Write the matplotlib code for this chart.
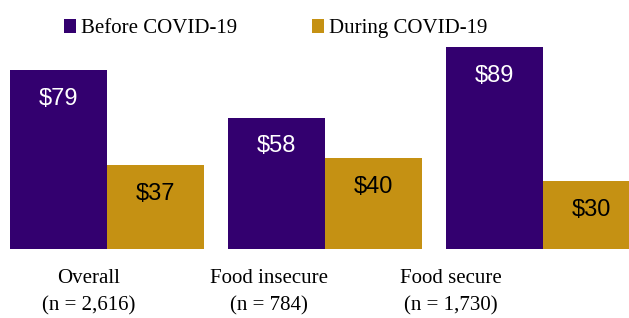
import numpy as np
import matplotlib
matplotlib.use("Agg")
import matplotlib.pyplot as plt

# данные
groups = ["Overall\n(n = 2,616)", "Food insecure\n(n = 784)", "Food secure\n(n = 1,730)"]
before = [79, 58, 89]
during = [37, 40, 30]
series_names = ["Before COVID-19", "During COVID-19"]
colors = ["#33006F", "#C59113"]

fig = plt.figure(figsize=(6.29, 3.18), dpi=100)
ax = fig.add_axes([0, 69 / 318, 1, 249 / 318])

x = np.arange(len(groups))
w = 0.445
px = 218.0  # пикселей на единицу по x

b1 = ax.bar(x - w / 2, before, w, color=colors[0], label=series_names[0])
b2 = ax.bar(x + w / 2, during, w, color=colors[1], label=series_names[1])

for bars, tc in [(b1, "white"), (b2, "black")]:
    for r in bars:
        ax.annotate("$%d" % r.get_height(),
                    (r.get_x() + r.get_width() / 2, r.get_height()),
                    xytext=(0, -20.5), textcoords="offset points",
                    ha="center", va="center", fontsize=17, color=tc,
                    family="Liberation Sans")

ax.set_xlim(-w - 10 / px, -w - 10 / px + 629 / px)
ax.set_ylim(0, 249 / 2.265)

# подписи категорий (смещены влево, как в оригинале)
label_pos = [-w + (p - 10) / px for p in (89, 269, 451)]
for p, g in zip(label_pos, groups):
    ax.text(p, -8.8, g, ha="center", va="top", fontsize=15,
            family="Liberation Serif", linespacing=1.6)

ax.axis("off")

leg = fig.legend(handles=[b1, b2], loc="upper left", bbox_to_anchor=(45 / 629, 1.0),
                 ncol=2, frameon=False, handlelength=0.6, handleheight=0.7,
                 handletextpad=0.25, columnspacing=3.55,
                 prop={"family": "Liberation Serif", "size": 15})

fig.savefig("out.png", dpi=100)
